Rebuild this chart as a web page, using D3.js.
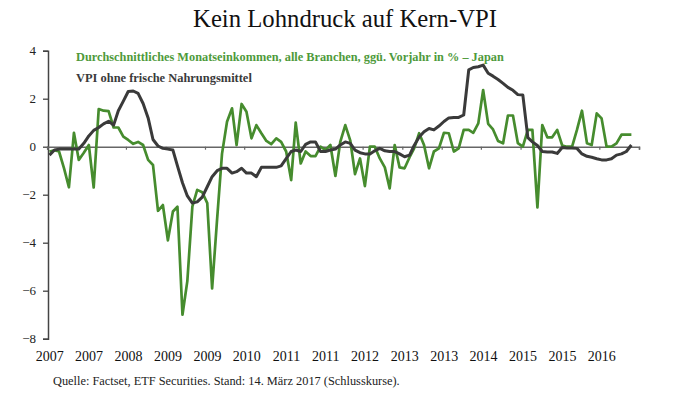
<!DOCTYPE html>
<html><head><meta charset="utf-8">
<script src="https://cdn.jsdelivr.net/npm/d3@7"></script>
<style>html,body{margin:0;padding:0;background:#fff;}svg{display:block;}</style>
</head><body>
<script>
// ---- data (monthly, from Jan 2007) ----
const startYear = 2007;
const income = [-0.2,-0.15,-0.2,-0.9,-1.69,0.58,-0.55,-0.25,0.07,-1.7,
1.57,1.5,1.48,0.8,0.8,0.42,0.28,0.12,0.2,0.07,
-0.55,-0.76,-2.67,-2.43,-3.9,-2.7,-2.5,-7.0,-5.6,-2.5,
-1.8,-1.9,-2.35,-5.9,-3.0,-0.3,1.04,1.6,0.07,1.78,
1.46,0.35,0.9,0.56,0.24,0.11,0.35,0.2,-0.2,-1.39,
1.0,-0.7,-0.2,-0.39,-0.39,0.0,-0.14,0.07,-1.22,0.2,
0.9,0.25,-1.14,-0.49,-1.64,0.0,0.0,-0.49,-0.86,-1.74,
0.07,-0.86,-0.9,-0.44,-0.07,0.56,0.07,-0.9,-0.2,-0.07,
0.58,0.56,-0.2,-0.07,0.7,0.7,0.58,0.97,2.36,0.95,
0.72,0.24,0.14,1.3,1.3,0.15,0.0,0.7,0.7,-2.53,
0.9,0.39,0.39,0.7,0.05,0.0,0.0,0.7,1.5,0.14,
0.07,1.39,1.18,0.0,0.0,0.14,0.5,0.5,0.5];
const cpi = [-0.35,-0.14,-0.1,-0.1,-0.1,-0.1,-0.1,0.14,0.45,0.68,
0.8,0.95,1.06,0.9,1.5,1.9,2.3,2.32,2.22,1.8,
1.2,0.3,0.03,-0.07,-0.1,-0.14,-0.8,-1.5,-2.05,-2.35,
-2.3,-2.1,-1.67,-1.25,-1.0,-0.9,-0.9,-1.1,-1.04,-0.9,
-1.1,-1.1,-1.25,-0.86,-0.86,-0.86,-0.86,-0.8,-0.5,-0.2,
-0.14,-0.2,0.1,0.2,0.2,-0.2,-0.2,-0.14,-0.1,0.07,
0.2,0.14,-0.14,-0.25,-0.3,-0.3,-0.17,-0.07,-0.17,-0.2,
-0.2,-0.3,-0.42,-0.35,0.05,0.4,0.62,0.76,0.7,0.86,
1.05,1.2,1.22,1.22,1.32,3.2,3.3,3.33,3.4,3.06,
2.94,2.8,2.64,2.47,2.35,2.17,2.15,0.38,0.2,0.05,
-0.2,-0.22,-0.22,-0.28,-0.03,-0.05,-0.05,-0.07,-0.3,-0.4,
-0.44,-0.5,-0.55,-0.55,-0.5,-0.35,-0.3,-0.2,0.07];
const yTicks = [-8,-6,-4,-2,0,2,4];
const tickStepMonths = 8;
const titleText = "Kein Lohndruck auf Kern-VPI";
const legendIncome = "Durchschnittliches Monatseinkommen, alle Branchen, ggü. Vorjahr in % – Japan";
const legendCpi = "VPI ohne frische Nahrungsmittel";
const sourceText = "Quelle: Factset, ETF Securities. Stand: 14. März 2017 (Schlusskurse).";

// ---- layout ----
const W = 685, H = 398;
const FONT = "'Liberation Serif', 'Times New Roman', serif";
const GREEN = "#468c2e", GREEN_TXT = "#4e9a3b", DARK = "#3a3a3a";

const svg = d3.select("body").append("svg").attr("width", W).attr("height", H);

const x = d3.scaleTime()
  .domain([new Date(startYear, 0, 1), new Date(startYear + 10, 0, 1)])
  .range([47.2, 639]);
const y = d3.scaleLinear().domain([-8, 4]).range([338.7, 50.7]);

const dateOf = i => new Date(startYear, i, 15);

// fit helper
function fit(sel, target, base) {
  sel.style("font-size", base + "px");
  const len = sel.node().getComputedTextLength();
  sel.style("font-size", (base * target / len).toFixed(2) + "px");
}

// title
const t = svg.append("text").attr("x", 345).attr("y", 27).attr("text-anchor", "middle")
  .style("font-family", FONT).style("fill", "#111").text(titleText);
fit(t, 304, 23);

// y axis
const yAxis = d3.axisLeft(y).tickValues(yTicks).tickSize(5).tickPadding(7).tickFormat(d3.format("d"));
const gy = svg.append("g").attr("transform", "translate(48,0)").call(yAxis);
gy.select(".domain").attr("stroke", "#444").attr("stroke-width", 1.5);
gy.selectAll(".tick line").attr("stroke", "#444").attr("stroke-width", 1.3);
gy.selectAll(".tick text").style("font-family", FONT).style("font-size", "13px").attr("fill", "#222");

// x axis on zero line (ticks only)
const tickDates = d3.range(0, 121, tickStepMonths).map(m => new Date(startYear, m, 1));
const gx = svg.append("g").attr("transform", `translate(0,${y(0)})`)
  .call(d3.axisBottom(x).tickValues(tickDates).tickSize(3).tickFormat(""));
gx.select(".domain").attr("stroke", "#666").attr("stroke-width", 1.6);
gx.selectAll(".tick line").attr("stroke", "#666").attr("stroke-width", 1.2);

// x labels at bottom
const fmt = d3.timeFormat("%Y");
const gl = svg.append("g").attr("transform", "translate(0,348)")
  .call(d3.axisBottom(x).tickValues(tickDates.slice(0, 15)).tickSize(0).tickPadding(0).tickFormat(fmt));
gl.select(".domain").remove();
gl.selectAll(".tick text").attr("dx", 2).attr("dy", "0.95em")
  .style("font-family", FONT).style("font-size", "14px").attr("fill", "#111");

// lines
const line = d3.line().x((d, i) => x(dateOf(i))).y(d => y(d));
svg.append("path").datum(income).attr("d", line).attr("fill", "none")
  .attr("stroke", GREEN).attr("stroke-width", 2.7).attr("stroke-linejoin", "round");
svg.append("path").datum(cpi).attr("d", line).attr("fill", "none")
  .attr("stroke", DARK).attr("stroke-width", 3).attr("stroke-linejoin", "round");

// legend
const l1 = svg.append("text").attr("x", 76).attr("y", 60.5).style("font-family", FONT)
  .style("font-weight", "bold").attr("fill", GREEN_TXT).text(legendIncome);
fit(l1, 428, 11);
const l2 = svg.append("text").attr("x", 76).attr("y", 82).style("font-family", FONT)
  .style("font-weight", "bold").attr("fill", DARK).text(legendCpi);
fit(l2, 176, 11);

// source
const s = svg.append("text").attr("x", 53).attr("y", 385).style("font-family", FONT)
  .attr("fill", "#222").text(sourceText);
fit(s, 347, 11);
</script>
</body></html>
